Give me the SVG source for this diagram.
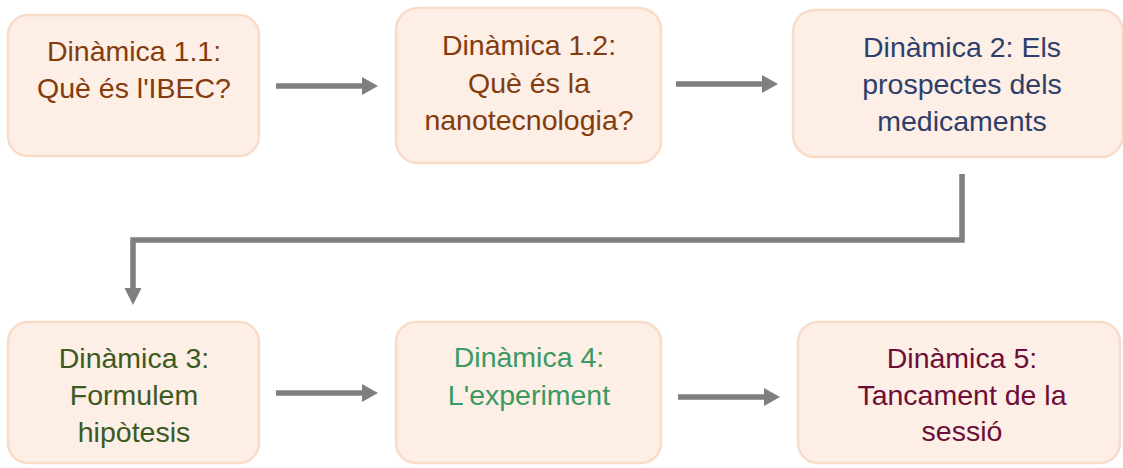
<svg xmlns="http://www.w3.org/2000/svg" width="1123" height="468" viewBox="0 0 1123 468">
<defs>
<style>
.box{fill:#FDEEE6;stroke:#F9DCC8;stroke-width:2.5}
.t{font-family:"Liberation Sans",Arial,sans-serif;font-size:28.5px;text-anchor:middle}
.c1{fill:#843C0C}.c2{fill:#2F3F6B}.c3{fill:#3B5A23}.c4{fill:#3A9A62}.c5{fill:#6E0E38}
.ln{fill:none;stroke:#7F7F7F;stroke-width:5.5}
.ah{fill:#7F7F7F}
</style>
</defs>
<rect width="1123" height="468" fill="#FFFFFF"/>
<g id="n1"><rect class="box" x="8" y="15" width="251" height="141" rx="20"/>
<text class="t c1" x="134" y="61">Dinàmica 1.1:</text><text class="t c1" x="134" y="98">Què és l'IBEC?</text></g>
<g id="n2"><rect class="box" x="396" y="8" width="265" height="155" rx="22"/>
<text class="t c1" x="529" y="55">Dinàmica 1.2:</text><text class="t c1" x="529" y="93">Què és la</text><text class="t c1" x="529" y="130">nanotecnologia?</text></g>
<g id="n3"><rect class="box" x="793" y="10" width="330" height="147" rx="22"/>
<text class="t c2" x="962" y="57">Dinàmica 2: Els</text><text class="t c2" x="962" y="94">prospectes dels</text><text class="t c2" x="962" y="131">medicaments</text></g>
<g id="n4"><rect class="box" x="8" y="322" width="251" height="141" rx="20"/>
<text class="t c3" x="134" y="368">Dinàmica 3:</text><text class="t c3" x="134" y="405">Formulem</text><text class="t c3" x="134" y="442">hipòtesis</text></g>
<g id="n5"><rect class="box" x="396" y="322" width="265" height="141" rx="20"/>
<text class="t c4" x="529" y="367">Dinàmica 4:</text><text class="t c4" x="529" y="405">L'experiment</text></g>
<g id="n6"><rect class="box" x="798" y="322" width="322" height="141" rx="20"/>
<text class="t c5" x="962" y="368">Dinàmica 5:</text><text class="t c5" x="962" y="405">Tancament de la</text><text class="t c5" x="962" y="441">sessió</text></g>
<g id="connectors">
<line class="ln" x1="276" y1="86" x2="363" y2="86"/><polygon class="ah" points="362,77 378,86 362,95"/>
<line class="ln" x1="676" y1="84" x2="763" y2="84"/><polygon class="ah" points="762,75 778,84 762,93"/>
<polyline class="ln" points="962,174 962,240 133,240 133,289"/><polygon class="ah" points="124.5,288 141.5,288 133,305"/>
<line class="ln" x1="276" y1="393" x2="363" y2="393"/><polygon class="ah" points="362,384 378,393 362,402"/>
<line class="ln" x1="678" y1="397" x2="765" y2="397"/><polygon class="ah" points="764,388 780,397 764,406"/>
</g>
</svg>
